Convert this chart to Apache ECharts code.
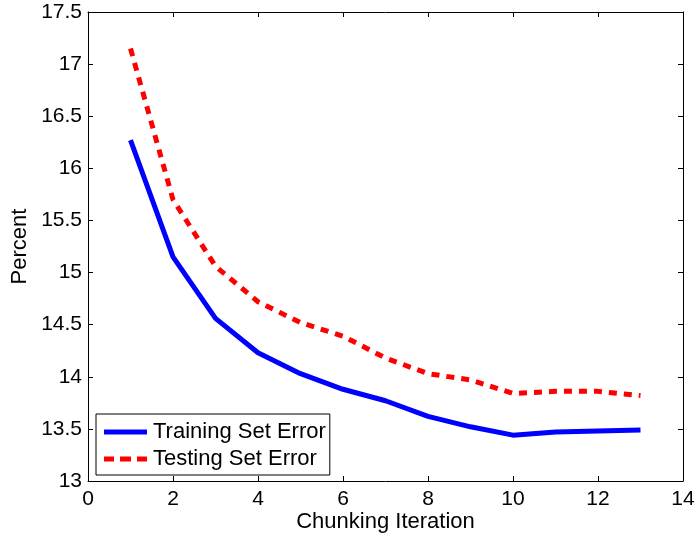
<!DOCTYPE html>
<html>
<head>
<meta charset="utf-8">
<script src="https://cdn.jsdelivr.net/npm/echarts@6/dist/echarts.min.js"></script>
<style>
  html, body { margin: 0; padding: 0; background: #fff; }
  #chart { width: 697px; height: 535px; }
</style>
</head>
<body>
<div id="chart"></div>
<script>
// data
const iterations = [1, 2, 3, 4, 5, 6, 7, 8, 9, 10, 11, 12, 13];
const trainingError = [16.27, 15.15, 14.56, 14.23, 14.03, 13.88, 13.77, 13.62, 13.52, 13.44, 13.47, 13.48, 13.49];
const testingError = [17.15, 15.70, 15.06, 14.72, 14.52, 14.39, 14.18, 14.03, 13.97, 13.84, 13.86, 13.86, 13.82];
const seriesNames = ['Training Set Error', 'Testing Set Error'];

const chart = echarts.init(document.getElementById('chart'));
const font = 'Liberation Sans, Arial, Helvetica, sans-serif';

const boxAxis = {
  axisLine: { show: true, onZero: false, lineStyle: { color: '#000', width: 1 } },
  axisTick: { show: true, inside: true, length: 5, lineStyle: { color: '#000' } },
  splitLine: { show: false },
};

chart.setOption({
  animation: false,
  grid: { left: 88, right: 14, top: 12, bottom: 54, containLabel: false, outerBoundsMode: 'none' },
  legend: {
    orient: 'vertical',
    left: 96,
    top: 414,
    data: [
      { name: seriesNames[0], icon: 'path://M0,0h43v5h-43z' },
      { name: seriesNames[1], icon: 'path://M0,0h10v5h-10z M16,0h11v5h-11z M33,0h10v5h-10z' },
    ],
    itemWidth: 43,
    itemHeight: 5,
    itemGap: 5,
    symbolKeepAspect: false,
    padding: [7, 4, 5, 8],
    borderColor: '#000',
    borderWidth: 1,
    backgroundColor: '#fff',
    textStyle: { fontFamily: font, fontSize: 22, color: '#000', padding: [0, 0, 0, 1] },
  },
  xAxis: [
    Object.assign({
      type: 'value', min: 0, max: 14, interval: 2,
      name: 'Chunking Iteration', nameLocation: 'middle', nameGap: 30, nameMoveOverlap: false,
      nameTextStyle: { fontFamily: font, fontSize: 22, color: '#000' },
      axisLabel: { fontFamily: font, fontSize: 21, color: '#000', margin: 8 },
    }, boxAxis),
    Object.assign({
      type: 'value', min: 0, max: 14, interval: 2, position: 'top',
      axisLabel: { show: false },
    }, boxAxis),
  ],
  yAxis: [
    Object.assign({
      type: 'value', min: 13, max: 17.5, interval: 0.5,
      name: 'Percent', nameLocation: 'middle', nameGap: 57, nameMoveOverlap: false,
      nameTextStyle: { fontFamily: font, fontSize: 22, color: '#000' },
      axisLabel: { fontFamily: font, fontSize: 21, color: '#000', margin: 6 },
    }, boxAxis),
    Object.assign({
      type: 'value', min: 13, max: 17.5, interval: 0.5, position: 'right',
      axisLabel: { show: false },
    }, boxAxis),
  ],
  series: [
    {
      name: seriesNames[0],
      type: 'line',
      symbol: 'none',
      data: iterations.map((x, i) => [x, trainingError[i]]),
      lineStyle: { color: '#0000ff', width: 5 },
      itemStyle: { color: '#0000ff' },
    },
    {
      name: seriesNames[1],
      type: 'line',
      symbol: 'none',
      data: iterations.map((x, i) => [x, testingError[i]]),
      lineStyle: { color: '#ff0000', width: 5, type: [8, 7] },
      itemStyle: { color: '#ff0000' },
    },
  ],
});
</script>
</body>
</html>
